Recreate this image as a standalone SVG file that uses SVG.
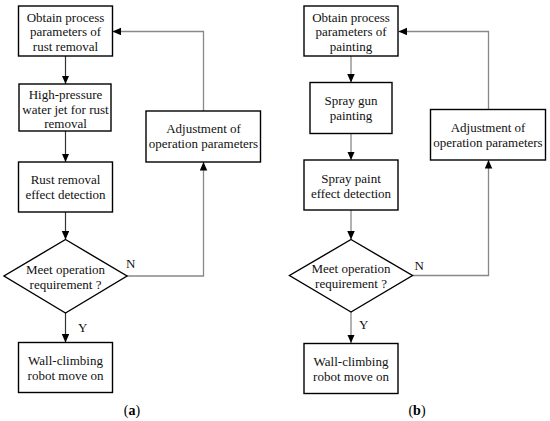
<svg xmlns="http://www.w3.org/2000/svg" width="550" height="421" viewBox="0 0 550 421">
<defs>
<marker id="ah" markerUnits="userSpaceOnUse" markerWidth="9" markerHeight="8" refX="8.5" refY="3.75" orient="auto">
<path d="M0,0 L8.5,3.75 L0,7.5 z" fill="#000"/>
</marker>
<style>
.box{fill:#fff;stroke:#000;stroke-width:1.4}
.t{font-family:"Liberation Serif","Times New Roman",serif;font-size:13px;fill:#111;text-anchor:middle}
.lbl{font-family:"Liberation Serif","Times New Roman",serif;font-size:13px;fill:#111}
.cd{fill:none;stroke:#333;stroke-width:1.2}
.cg{fill:none;stroke:#888;stroke-width:1.3}
.cap{font-family:"Liberation Serif","Times New Roman",serif;font-size:14px;fill:#000;text-anchor:middle}
</style>
</defs>
<rect width="550" height="421" fill="#fff"/>

<g id="connectors">
<!-- (a) -->
<line class="cd" x1="65.5" y1="56" x2="65.5" y2="84" marker-end="url(#ah)"/>
<line class="cd" x1="65.5" y1="131" x2="65.5" y2="162" marker-end="url(#ah)"/>
<line class="cd" x1="65.5" y1="212" x2="65.5" y2="239.5" marker-end="url(#ah)"/>
<line class="cd" x1="65.5" y1="313" x2="65.5" y2="342.5" marker-end="url(#ah)"/>
<polyline class="cg" points="127,276 203.5,276 203.5,162" marker-end="url(#ah)"/>
<polyline class="cg" points="203.5,111 203.5,31.5 112.5,31.5" marker-end="url(#ah)"/>
<!-- (b) -->
<line class="cg" x1="351" y1="56" x2="351" y2="82.5" marker-end="url(#ah)"/>
<line class="cg" x1="351" y1="133.5" x2="351" y2="160" marker-end="url(#ah)"/>
<line class="cg" x1="351" y1="210" x2="351" y2="239.5" marker-end="url(#ah)"/>
<line class="cg" x1="351" y1="312" x2="351" y2="343" marker-end="url(#ah)"/>
<polyline class="cg" points="412.5,275.5 488.5,275.5 488.5,160" marker-end="url(#ah)"/>
<polyline class="cg" points="488.5,109.5 488.5,31.5 398.5,31.5" marker-end="url(#ah)"/>
</g>

<g id="a-obtain">
<rect class="box" x="18.5" y="6" width="94" height="50"/>
<text class="t" x="65.5" y="21.5">Obtain  process</text>
<text class="t" x="65.5" y="36">parameters of</text>
<text class="t" x="65.5" y="50.5">rust removal</text>
</g>
<g id="a-jet">
<rect class="box" x="19" y="84" width="92" height="47"/>
<text class="t" x="65.5" y="99">High-pressure</text>
<text class="t" x="65.5" y="113.5">water jet for rust</text>
<text class="t" x="65.5" y="128">removal</text>
</g>
<g id="a-detect">
<rect class="box" x="18.5" y="162" width="94" height="50"/>
<text class="t" x="65.5" y="184">Rust removal</text>
<text class="t" x="65.5" y="198.5">effect detection</text>
</g>
<g id="a-decision">
<polygon class="box" points="65.5,239.5 127,276 65.5,313 4,276"/>
<text class="t" x="65.5" y="273.5">Meet operation</text>
<text class="t" x="65.5" y="288.5">requirement ?</text>
</g>
<g id="a-move">
<rect class="box" x="18.5" y="342.5" width="94" height="50"/>
<text class="t" x="65.5" y="365">Wall-climbing</text>
<text class="t" x="65.5" y="379.5">robot move on</text>
</g>
<g id="a-adjust">
<rect class="box" x="146" y="111" width="114.5" height="51"/>
<text class="t" x="203.5" y="132.5">Adjustment of</text>
<text class="t" x="203.5" y="148">operation parameters</text>
</g>
<text class="lbl" x="126" y="267.5">N</text>
<text class="lbl" x="78" y="332">Y</text>
<text class="cap" x="132" y="415">(<tspan font-weight="bold">a</tspan>)</text>

<g id="b-obtain">
<rect class="box" x="304" y="6" width="94" height="50"/>
<text class="t" x="351" y="21.5">Obtain  process</text>
<text class="t" x="351" y="36">parameters of</text>
<text class="t" x="351" y="50.5">painting</text>
</g>
<g id="b-spray">
<rect class="box" x="310" y="82.5" width="82" height="51"/>
<text class="t" x="351" y="105">Spray gun</text>
<text class="t" x="351" y="119.5">painting</text>
</g>
<g id="b-detect">
<rect class="box" x="304" y="160" width="94" height="50"/>
<text class="t" x="351" y="183">Spray paint</text>
<text class="t" x="351" y="197.5">effect detection</text>
</g>
<g id="b-decision">
<polygon class="box" points="351,239.5 412.5,275.5 351,312 289.5,275.5"/>
<text class="t" x="351" y="272.5">Meet operation</text>
<text class="t" x="351" y="287.5">requirement ?</text>
</g>
<g id="b-move">
<rect class="box" x="304" y="343.5" width="94" height="50"/>
<text class="t" x="351" y="366">Wall-climbing</text>
<text class="t" x="351" y="380.5">robot move on</text>
</g>
<g id="b-adjust">
<rect class="box" x="430.5" y="109.5" width="115" height="50.5"/>
<text class="t" x="488" y="132">Adjustment of</text>
<text class="t" x="488" y="146.5">operation parameters</text>
</g>
<text class="lbl" x="414.5" y="269.5">N</text>
<text class="lbl" x="359" y="328.5">Y</text>
<text class="cap" x="417" y="415">(<tspan font-weight="bold">b</tspan>)</text>
</svg>
